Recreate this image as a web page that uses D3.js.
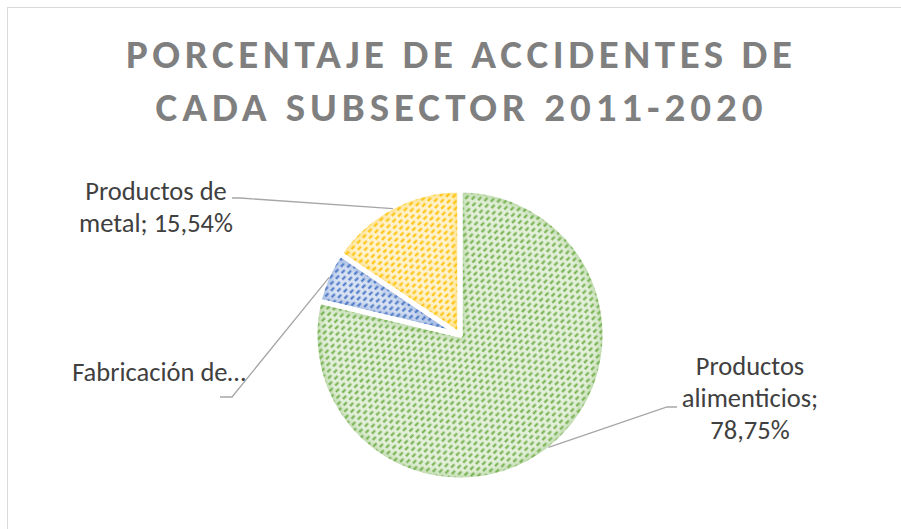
<!DOCTYPE html>
<html>
<head>
<meta charset="utf-8">
<script src="https://cdn.jsdelivr.net/npm/d3@7"></script>
<style>
  html, body { margin: 0; padding: 0; background: #fff; }
  svg { display: block; }
</style>
</head>
<body>
<svg id="chart" width="901" height="529"></svg>
<script>
// Chart data
const categories = ["Productos alimenticios", "Fabricación de…", "Productos de metal"];
const values = [78.75, 5.71, 15.54];
const labelLines = [
    ["Productos", "alimenticios;", "78,75%"],
    ["Fabricación de…"],
    ["Productos de", "metal; 15,54%"]
];
const titleLines = ["PORCENTAJE DE ACCIDENTES DE", "CADA SUBSECTOR 2011-2020"];

// Colours: [dots, background]
const colors = [
    ["#70ad47", "#e2efd9"],
    ["#4472c4", "#d9e2f3"],
    ["#ffc000", "#fff2cc"]
];

// Layout
const cx = 460, cy = 335, radius = 145;
const fontFamily = "Carlito, Calibri, Lato, 'Open Sans', sans-serif";
const labelLayout = [
    { x: 750, y: 375, dy: 32, elbow: [[677, 407], [667, 407]] },
    { x: 159, y: 381, dy: 32, elbow: [[220, 397], [232, 397]] },
    { x: 156, y: 199.5, dy: 32, elbow: [[232, 198], [240, 198]] }
];

const svg = d3.select("#chart");
const defs = svg.append("defs");

// Chart area border (only top and left fall inside the window)
svg.append("rect")
    .attr("x", 7.5).attr("y", 7.5)
    .attr("width", 1000).attr("height", 1000)
    .attr("fill", "none")
    .attr("stroke", "#d9d9d9")
    .attr("stroke-width", 1);

// Patterns: dashed upward diagonal lines on a light tint
colors.forEach(([fg, bg], i) => {
    const p = defs.append("pattern")
        .attr("id", `pat${i}`)
        .attr("patternUnits", "userSpaceOnUse")
        .attr("width", 8).attr("height", 10)
        .attr("patternTransform", "rotate(-45)");
    p.append("rect").attr("x", -1).attr("y", -1)
        .attr("width", 10).attr("height", 12).attr("fill", bg);
    [[2.5, 0], [7.5, 4]].forEach(([y, off]) => {
        p.append("line")
            .attr("x1", -8).attr("x2", 16)
            .attr("y1", y).attr("y2", y)
            .attr("stroke", fg)
            .attr("stroke-width", 2.2)
            .attr("stroke-dasharray", "4.5 3.5")
            .attr("stroke-dashoffset", off);
    });
});

defs.append("filter").attr("id", "blur")
    .attr("x", "-20%").attr("y", "-20%").attr("width", "140%").attr("height", "140%")
    .append("feGaussianBlur").attr("stdDeviation", 3);

// Pie
const pie = d3.pie().sort(null).value((d) => d);
const arcs = pie(values);
const arc = d3.arc().innerRadius(0).outerRadius(radius);
const edgeArc = d3.arc().innerRadius(radius - 2).outerRadius(radius - 2);

const g = svg.append("g").attr("transform", `translate(${cx},${cy})`);

arcs.forEach((d, i) => {
    defs.append("clipPath").attr("id", `clip${i}`)
        .append("path").attr("d", arc(d));

    g.append("path")
        .attr("d", arc(d))
        .attr("fill", `url(#pat${i})`);

    // soft inner glow along the edges
    g.append("g").attr("clip-path", `url(#clip${i})`)
        .append("path")
        .attr("d", arc(d))
        .attr("fill", "none")
        .attr("stroke", colors[i][0])
        .attr("stroke-width", 10)
        .attr("stroke-opacity", 0.35)
        .attr("filter", "url(#blur)");
});

// White separators
g.selectAll("path.sep")
    .data(arcs)
    .join("path")
    .attr("class", "sep")
    .attr("d", arc)
    .attr("fill", "none")
    .attr("stroke", "#fff")
    .attr("stroke-width", 5)
    .attr("stroke-linejoin", "round");

// Leader lines
arcs.forEach((d, i) => {
    const [ex, ey] = edgeArc.centroid(d);
    const pts = [...labelLayout[i].elbow, [cx + ex, cy + ey]];
    svg.append("path")
        .attr("d", d3.line()(pts))
        .attr("fill", "none")
        .attr("stroke", "#a6a6a6")
        .attr("stroke-width", 1.3);
});

// Data labels
labelLines.forEach((lines, i) => {
    const L = labelLayout[i];
    const t = svg.append("text")
        .attr("text-anchor", "middle")
        .attr("font-family", fontFamily)
        .attr("font-size", 26.5)
        .attr("fill", "#404040");
    lines.forEach((s, k) => {
        t.append("tspan").attr("x", L.x).attr("y", L.y + k * L.dy).text(s);
    });
});

// Title, letter-spaced to fit
const titleWidths = [666, 607];
const titleBase = [68, 121];
titleLines.forEach((s, k) => {
    const t = svg.append("text")
        .attr("x", 459).attr("y", titleBase[k])
        .attr("text-anchor", "middle")
        .attr("font-family", fontFamily)
        .attr("font-weight", "bold")
        .attr("font-size", 41)
        .attr("fill", "#7f7f7f")
        .text(s);
    const w0 = t.node().getComputedTextLength();
    const ls = (titleWidths[k] - w0) / (s.length - 1);
    t.attr("letter-spacing", ls).attr("x", 459 + ls / 2);
});
</script>
</body>
</html>
